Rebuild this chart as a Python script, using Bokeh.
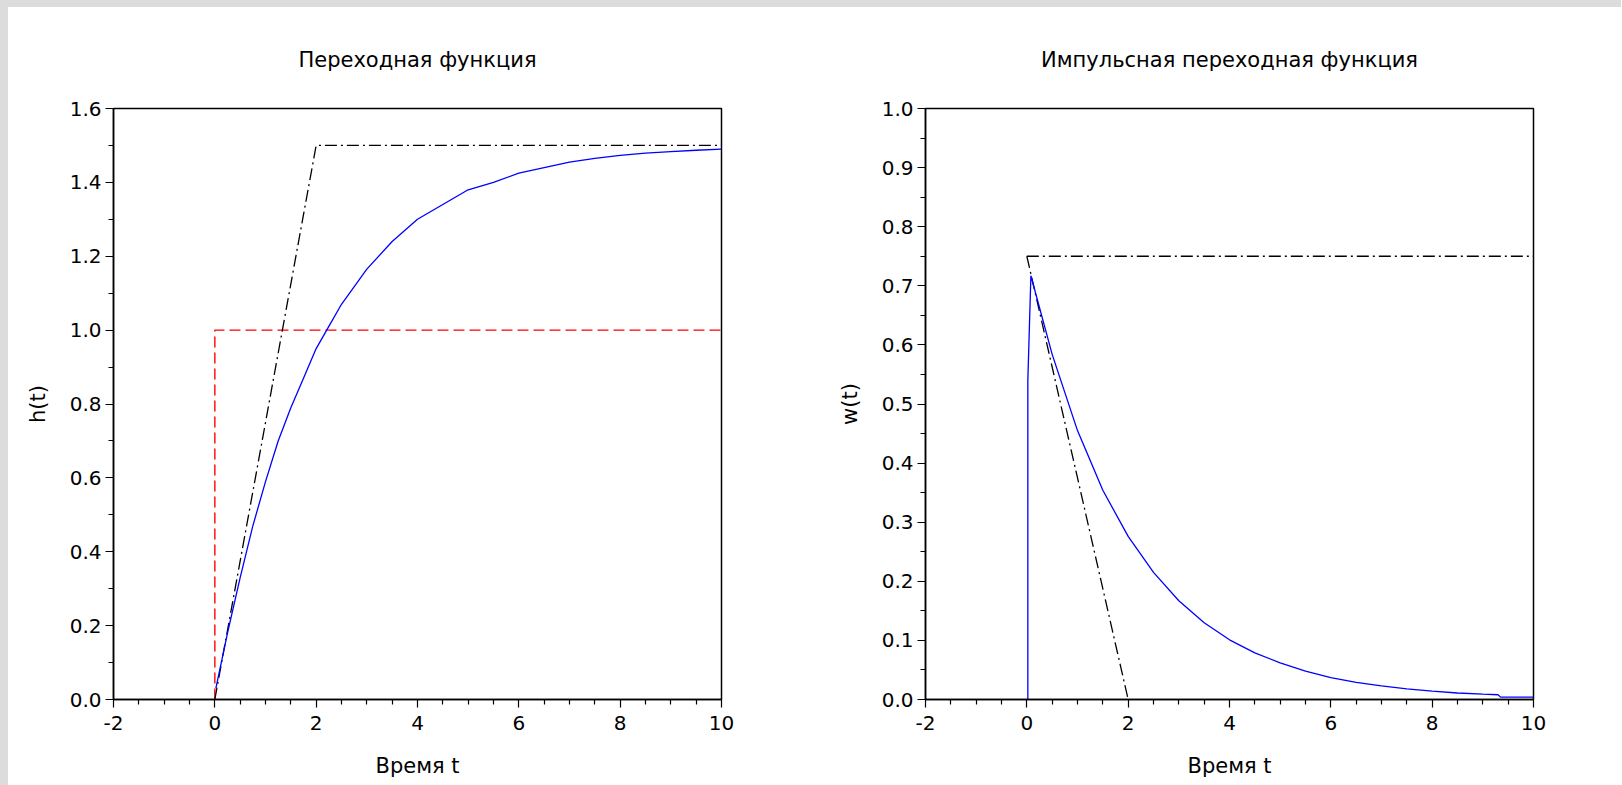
from bokeh.plotting import figure
from bokeh.layouts import row
from bokeh.models import FixedTicker, PrintfTickFormatter, Range1d
from bokeh.embed import file_html
from bokeh.resources import INLINE

# ---------------- data ----------------
# Left chart: step response h(t)
step_t = [0, 0, 10]
step_h = [0, 1.0, 1.0]
tan_h_t = [0, 2, 10]
tan_h_v = [0, 1.5, 1.5]
h_t = [0.02, 0.25, 0.5, 0.75, 1.0, 1.25, 1.5, 1.75, 2.0, 2.25, 2.5, 3.0, 3.5,
       4.0, 4.5, 5.0, 5.5, 6.0, 6.5, 7.0, 7.5, 8.0, 8.5, 9.0, 9.5, 10.0]
h_v = [0.03, 0.18, 0.33, 0.47, 0.59, 0.70, 0.79, 0.87, 0.95, 1.01, 1.07, 1.165, 1.24,
       1.30, 1.34, 1.38, 1.40, 1.425, 1.44, 1.455, 1.465, 1.473, 1.479, 1.483, 1.487, 1.49]

# Right chart: impulse response w(t)
w_level_t = [0, 10]
w_level_v = [0.75, 0.75]
w_tan_t = [0, 2]
w_tan_v = [0.75, 0.0]
w_t = [0.0, 0.02, 0.02, 0.08, 0.5, 1.0, 1.5, 2.0, 2.5, 3.0, 3.5, 4.0, 4.5, 5.0,
       5.5, 6.0, 6.5, 7.0, 7.5, 8.0, 8.5, 9.0, 9.3, 9.35, 10.0]
w_v = [0.0, 0.0, 0.54, 0.717, 0.584, 0.455, 0.354, 0.276, 0.215, 0.167, 0.130, 0.101,
       0.079, 0.062, 0.048, 0.037, 0.029, 0.023, 0.018, 0.014, 0.011, 0.009, 0.008,
       0.004, 0.004]

# ticks
x_ticks = [-2, 0, 2, 4, 6, 8, 10]
x_minor = [-1.5, -1, -0.5, 0.5, 1, 1.5, 2.5, 3, 3.5, 4.5, 5, 5.5, 6.5, 7, 7.5, 8.5, 9, 9.5]
h_ticks = [0.0, 0.2, 0.4, 0.6, 0.8, 1.0, 1.2, 1.4, 1.6]
h_minor = [0.1, 0.3, 0.5, 0.7, 0.9, 1.1, 1.3, 1.5]
w_ticks = [0.0, 0.1, 0.2, 0.3, 0.4, 0.5, 0.6, 0.7, 0.8, 0.9, 1.0]
w_minor = [0.05, 0.15, 0.25, 0.35, 0.45, 0.55, 0.65, 0.75, 0.85, 0.95]

title_left = "Переходная функция"
title_right = "Импульсная переходная функция"
xlabel = "Время t"
ylabel_left = "h(t)"
ylabel_right = "w(t)"

FONT = "DejaVu Sans"
FS_TICK = "20px"
FS_TEXT = "21px"
DASHDOT = "12 4 2 4"


def make_fig(title, ylab, ymax, yt, ym, left_border, right_border):
    p = figure(output_backend="svg", toolbar_location=None,
               frame_width=608, frame_height=591,
               min_border_left=left_border, min_border_right=right_border,
               min_border_top=101, min_border_bottom=86,
               x_range=Range1d(-2, 10), y_range=Range1d(0, ymax),
               title=title)
    p.background_fill_color = "white"
    p.border_fill_color = "white"
    p.grid.visible = False
    p.outline_line_color = "black"
    p.outline_line_width = 1.5
    p.title.align = "center"
    p.title.text_font = FONT
    p.title.text_font_size = FS_TEXT
    p.title.text_font_style = "normal"
    p.title.text_color = "black"
    p.title.standoff = 74

    for ax in (p.xaxis[0], p.yaxis[0]):
        ax.axis_line_color = "black"
        ax.axis_line_width = 1.5
        ax.major_tick_line_color = "black"
        ax.minor_tick_line_color = "black"
        ax.major_tick_line_width = 1.2
        ax.minor_tick_line_width = 1.2
        ax.major_tick_in = 0
        ax.major_tick_out = 8
        ax.minor_tick_in = 0
        ax.minor_tick_out = 5
        ax.major_label_text_font = FONT
        ax.major_label_text_font_size = FS_TICK
        ax.major_label_text_color = "black"
        ax.axis_label_text_font = FONT
        ax.axis_label_text_font_size = FS_TEXT
        ax.axis_label_text_font_style = "normal"
        ax.axis_label_text_color = "black"

    p.xaxis.ticker = FixedTicker(ticks=x_ticks, minor_ticks=x_minor)
    p.xaxis.formatter = PrintfTickFormatter(format="%d")
    p.xaxis.axis_label = xlabel
    p.xaxis.major_label_standoff = 8
    p.xaxis.axis_label_standoff = 21

    p.yaxis.ticker = FixedTicker(ticks=yt, minor_ticks=ym)
    p.yaxis.formatter = PrintfTickFormatter(format="%.1f")
    p.yaxis.axis_label = ylab
    p.yaxis.major_label_standoff = 4
    p.yaxis.axis_label_standoff = 17
    return p


p1 = make_fig(title_left, ylabel_left, 1.6, h_ticks, h_minor, 105, 95)
p1.line(step_t, step_h, line_color="#ff0000", line_width=1.4, line_dash="11 5")
p1.line(tan_h_t, tan_h_v, line_color="black", line_width=1.3, line_dash=DASHDOT)
p1.line(h_t, h_v, line_color="#0000ff", line_width=1.3)

p2 = make_fig(title_right, ylabel_right, 1.0, w_ticks, w_minor, 109, 88)
p2.line(w_level_t, w_level_v, line_color="black", line_width=1.3, line_dash=DASHDOT)
p2.line(w_tan_t, w_tan_v, line_color="black", line_width=1.3, line_dash=DASHDOT)
p2.line(w_t, w_v, line_color="#0000ff", line_width=1.3)

layout = row(p1, p2, styles={"background-color": "white",
                             "border-top": "7px solid #dcdcdc",
                             "border-left": "8px solid #dcdcdc"})

open("out.html", "w").write(file_html(layout, INLINE))
